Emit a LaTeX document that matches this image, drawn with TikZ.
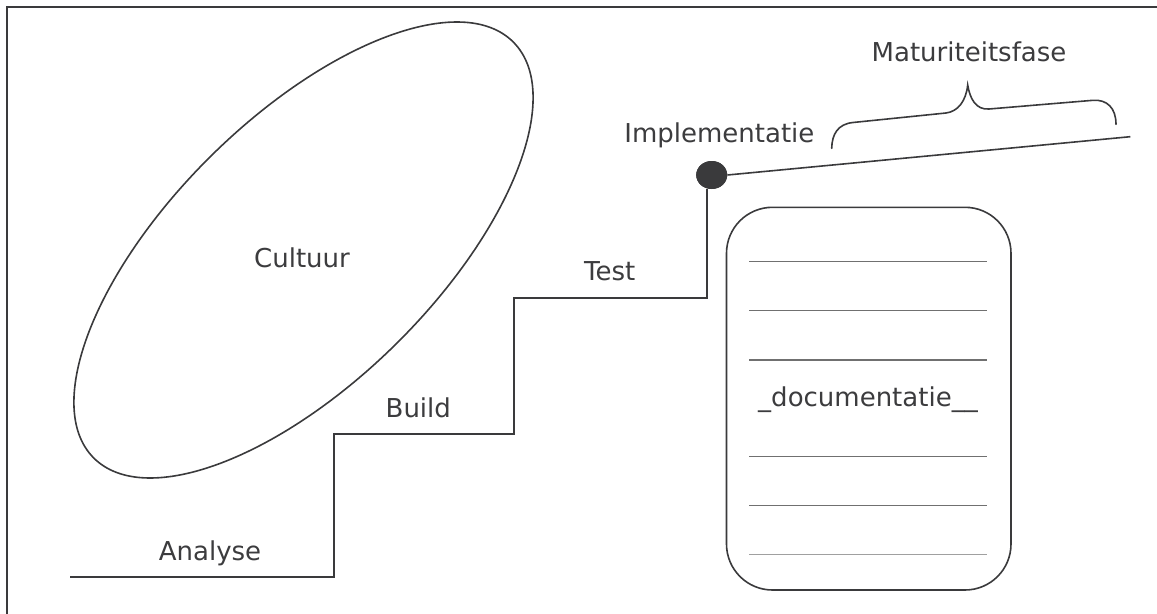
\documentclass[tikz,border=0pt]{standalone}
\usepackage{fontspec}
\setmainfont{DejaVu Sans}
\usetikzlibrary{shapes.geometric}
\definecolor{ink}{HTML}{3A3A3C}
\definecolor{txt}{HTML}{3C3C3E}
\definecolor{rule}{HTML}{707070}
\definecolor{rulelight}{HTML}{A0A0A0}
\tikzset{
  stroke/.style={draw=ink, line width=1.2pt},
  label/.style={text=txt, font=\fontsize{19.5pt}{23pt}\selectfont, inner sep=0pt, anchor=base},
  docrule/.style={draw=rule, line width=0.8pt},
}
\begin{document}
\begin{tikzpicture}[x=0.75pt, y=-0.75pt]
  \useasboundingbox (0,0) rectangle (1157,614);
  % outer frame (only its top and left edges fall inside the page)
  \draw[draw=ink, line width=1.5pt] (7,620) -- (7,7) -- (1165,7);

  % culture ellipse
  \node[stroke, ellipse, inner sep=0pt, rotate=44.7,
        minimum width={590.8*0.75pt}, minimum height={263.8*0.75pt}] (cult) at (303.5,250) {};
  \node[label] (cultT) at (302,267.4) {Cultuur};

  % staircase of phases
  \coordinate (a0) at (70,577);
  \coordinate (a1) at (334,577);
  \coordinate (b0) at (334,434);
  \coordinate (b1) at (514,434);
  \coordinate (t0) at (514,297.7);
  \coordinate (t1) at (706.7,297.7);
  \node[ellipse, fill=ink, inner sep=0pt, minimum width={31*0.75pt}, minimum height={28*0.75pt}] (impl) at (711.7,175) {};
  \coordinate (mat) at (1130.3,136.7);
  \draw[stroke] (a0) -- (a1) -- (b0) -- (b1) -- (t0) -- (t1) -- (t1 |- impl.south);
  \node[ellipse, fill=ink, inner sep=0pt, minimum width={31*0.75pt}, minimum height={28*0.75pt}] at (impl) {};
  \draw[stroke] (impl.east) -- (mat);

  \node[label] (anT) at (210,560.7) {Analyse};
  \node[label] (buT) at (418.3,417.3) {Build};
  \node[label] (teT) at (609.7,280.7) {Test};
  \node[label] (imT) at (719.4,142.5) {Implementatie};
  \node[label] (maT) at (969,61.7) {Maturiteitsfase};

  % brace over the maturity line
  \draw[stroke, line cap=round]
    (831.7,148.3) .. controls (832,134) and (838,124) .. (853,122.5)
    -- (946,113) .. controls (958,111.5) and (966,101) .. (967.7,85)
    .. controls (970,99) and (976,110) .. (989,109)
    -- (1093,100.3) .. controls (1107,99.3) and (1116,108) .. (1116,124.3);

  % documentation sheet
  \node[stroke, rounded corners={46*0.75pt}, inner sep=0pt,
        minimum width={284.5*0.75pt}, minimum height={382.7*0.75pt}] (doc) at (868.75,398.65) {};
  \foreach \yy in {261.7,310.7,360,456.7,505.5}
    \draw[docrule] (749.3,\yy) -- (986.9,\yy);
  \draw[draw=rulelight, line width=0.7pt] (749.3,554.2) -- (986.9,554.2);
  \node[label] (docT) at (868,406) {\_documentatie\_\_};
\end{tikzpicture}
\end{document}
